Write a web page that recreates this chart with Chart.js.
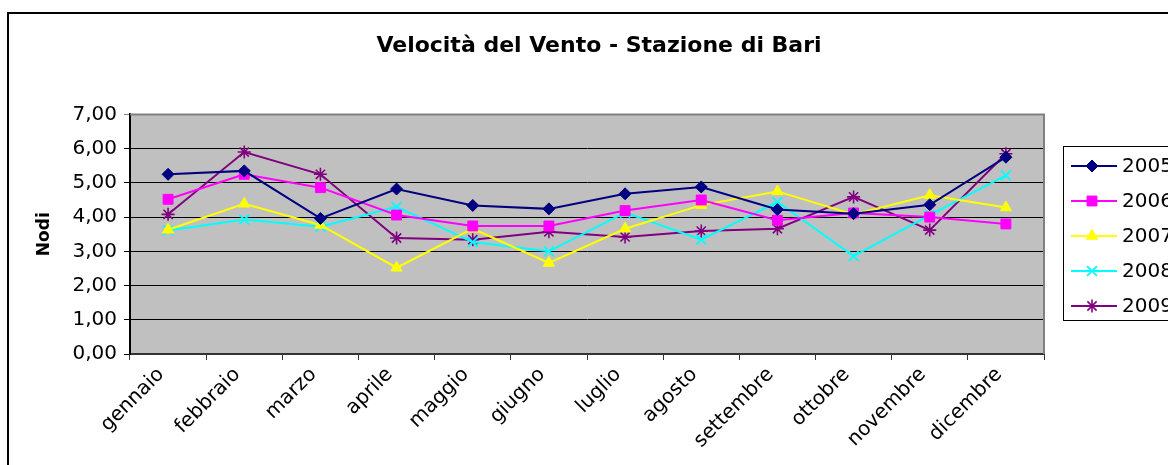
<!DOCTYPE html>
<html>
<head>
<meta charset="utf-8">
<script src="https://cdn.jsdelivr.net/npm/chart.js@4/dist/chart.umd.min.js"></script>
<style>
  html, body { margin: 0; padding: 0; background: #fff; overflow: hidden; }
  canvas { display: block; }
</style>
</head>
<body>
<canvas id="c" width="1168" height="465"></canvas>
<script>
const months = ['gennaio','febbraio','marzo','aprile','maggio','giugno','luglio','agosto','settembre','ottobre','novembre','dicembre'];
const yTicks = [0, 1, 2, 3, 4, 5, 6, 7];
const v2005 = [5.25, 5.35, 3.96, 4.82, 4.34, 4.24, 4.68, 4.88, 4.22, 4.10, 4.36, 5.75];
const v2006 = [4.52, 5.25, 4.86, 4.06, 3.74, 3.74, 4.19, 4.50, 3.91, 4.12, 4.00, 3.80];
const v2007 = [3.63, 4.39, 3.77, 2.52, 3.66, 2.66, 3.66, 4.35, 4.75, 4.08, 4.64, 4.28];
const v2008 = [3.61, 3.93, 3.72, 4.30, 3.27, 3.00, 4.13, 3.34, 4.44, 2.86, 4.06, 5.22];
const v2009 = [4.08, 5.90, 5.25, 3.39, 3.34, 3.57, 3.42, 3.59, 3.66, 4.59, 3.62, 5.85];
const seriesNames = ['2005', '2006', '2007', '2008', '2009'];

const FONT = '"DejaVu Sans", "Liberation Sans", Arial, sans-serif';

function ds(label, data, color, style, radius, bw) {
  return {
    label, data, yAxisID: 'y',
    borderColor: color, backgroundColor: color,
    borderWidth: 2,
    pointStyle: style, pointRadius: radius, pointHoverRadius: radius,
    pointBorderColor: color, pointBackgroundColor: color,
    pointBorderWidth: bw,
    tension: 0, fill: false
  };
}

const datasets = [
  ds(seriesNames[0], v2005, '#000080', 'rectRot', 6, 1),
  ds(seriesNames[1], v2006, '#FF00FF', 'rect', 7, 1),
  ds(seriesNames[2], v2007, '#FFFF00', 'triangle', 6.5, 1),
  ds(seriesNames[3], v2008, '#00FFFF', 'crossRot', 7, 1.8),
  ds(seriesNames[4], v2009, '#800080', 'star', 6.5, 1.6)
];

const frame = {
  id: 'frame',
  beforeDraw(chart) {
    const ctx = chart.ctx, a = chart.chartArea;
    ctx.save();
    ctx.fillStyle = '#fff';
    ctx.fillRect(0, 0, chart.width, chart.height);
    ctx.strokeStyle = '#000';
    ctx.lineWidth = 2;
    ctx.strokeRect(8, 13, 1400, 700);
    ctx.fillStyle = '#C0C0C0';
    ctx.fillRect(a.left, a.top, a.right - a.left, a.bottom - a.top);
    ctx.restore();
  },
  beforeDatasetsDraw(chart) {
    const ctx = chart.ctx, a = chart.chartArea;
    ctx.save();
    ctx.strokeStyle = '#808080';
    ctx.lineWidth = 2;
    ctx.beginPath();
    ctx.moveTo(a.left, a.top);
    ctx.lineTo(a.right, a.top);
    ctx.lineTo(a.right, a.bottom);
    ctx.stroke();
    ctx.restore();
  },
  afterDraw(chart) {
    const ctx = chart.ctx;
    ctx.save();
    ctx.strokeStyle = '#000';
    ctx.lineWidth = 1;
    ctx.strokeRect(1063.5, 146.5, 300, 174);
    chart.data.datasets.forEach((d, i) => {
      const y = 166 + i * 35;
      ctx.strokeStyle = d.borderColor;
      ctx.lineWidth = 2;
      ctx.beginPath();
      ctx.moveTo(1071, y);
      ctx.lineTo(1117, y);
      ctx.stroke();
      if (Chart.helpers && Chart.helpers.drawPoint) {
        ctx.fillStyle = d.pointBackgroundColor;
        ctx.strokeStyle = d.pointBorderColor;
        ctx.lineWidth = d.pointBorderWidth;
        Chart.helpers.drawPoint(ctx, {pointStyle: d.pointStyle, radius: d.pointRadius, borderWidth: d.pointBorderWidth, rotation: 0}, 1092, y);
      }
      ctx.fillStyle = '#000';
      ctx.font = '20px ' + FONT;
      ctx.textBaseline = 'middle';
      ctx.textAlign = 'left';
      ctx.fillText(d.label, 1122, y + 1);
    });
    ctx.restore();
  }
};

new Chart(document.getElementById('c'), {
  type: 'line',
  data: { labels: months, datasets },
  options: {
    responsive: false,
    animation: false,
    devicePixelRatio: 1,
    layout: { padding: { left: 30, right: 0, top: 0, bottom: 0 } },
    plugins: {
      legend: { display: false },
      tooltip: { enabled: false },
      title: {
        display: true,
        text: 'Velocità del Vento - Stazione di Bari',
        color: '#000',
        font: { family: FONT, size: 22, weight: 'bold' },
        padding: { top: 33, bottom: 55 }
      }
    },
    scales: {
      x: {
        type: 'category',
        offset: true,
        grid: { display: true, drawOnChartArea: false, drawTicks: true, tickLength: 6, offset: true, color: '#333', lineWidth: 1 },
        border: { display: true, color: '#333', width: 2 },
        ticks: {
          color: '#000', font: { family: FONT, size: 20 },
          maxRotation: 45, minRotation: 45, autoSkip: false, padding: 3, labelOffset: -7
        },
        afterFit(s) { s.height = 111; }
      },
      y: {
        position: 'left',
        min: 0, max: 7,
        afterBuildTicks(s) { s.ticks = yTicks.map(v => ({ value: v })); },
        grid: {
          color: (c) => (c.tick && c.tick.value === 7) ? '#808080' : '#000',
          lineWidth: 1, tickLength: 6, drawTicks: true
        },
        border: { display: true, color: '#000', width: 2 },
        ticks: {
          color: '#000', font: { family: FONT, size: 20 }, padding: 7,
          callback: (v) => Number(v).toFixed(2).replace('.', ',')
        },
        title: {
          display: true, text: 'Nodi', color: '#000',
          font: { family: FONT, size: 17, weight: 'bold' },
          padding: { top: 4, bottom: 0 }
        },
        afterFit(s) { s.width = 100; }
      },
      yRight: {
        position: 'right',
        min: 0, max: 7,
        grid: { display: false, drawOnChartArea: false, drawTicks: false },
        border: { display: false },
        ticks: { display: false },
        afterFit(s) { s.width = 124; }
      }
    }
  },
  plugins: [frame]
});
</script>
</body>
</html>
